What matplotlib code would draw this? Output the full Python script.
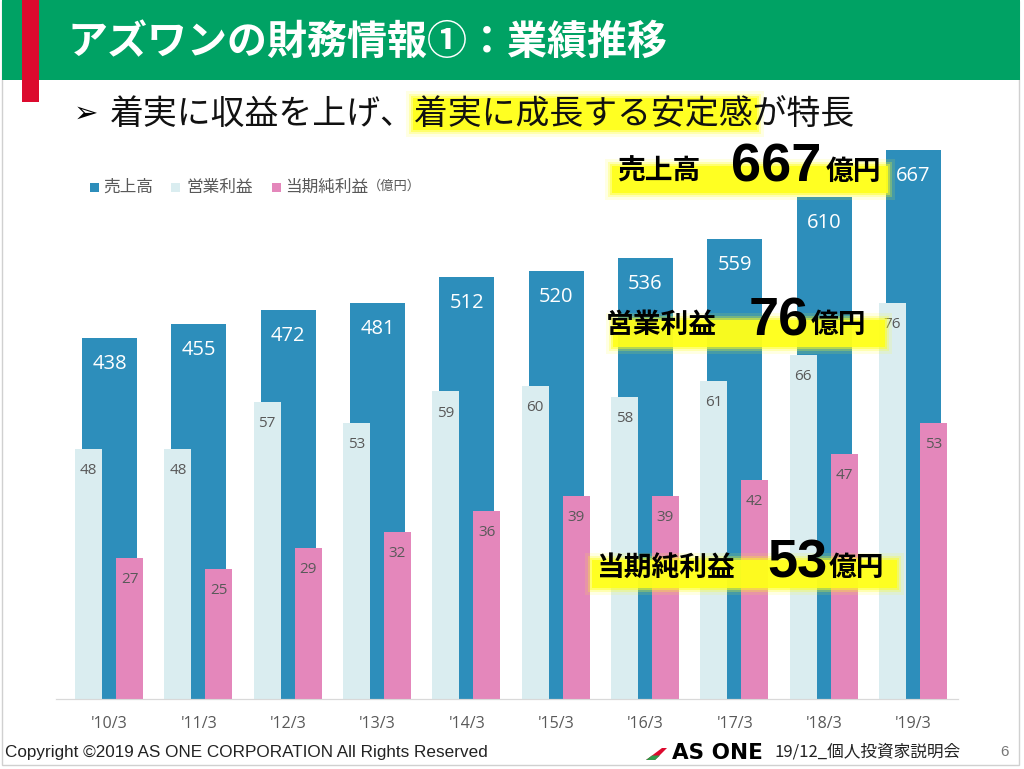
"""
アズワンの財務情報①：業績推移
売上高・営業利益・当期純利益 (億円)
"""

import matplotlib
matplotlib.use("Agg")

import matplotlib.pyplot as plt
from matplotlib.patches import Rectangle, Polygon

plt.rcParams["font.family"] = ["Noto Sans CJK JP", "DejaVu Sans"]

# data
years = ["'10/3", "'11/3", "'12/3", "'13/3", "'14/3",
         "'15/3", "'16/3", "'17/3", "'18/3", "'19/3"]
sales = [438, 455, 472, 481, 512, 520, 536, 559, 610, 667]
op_income = [48, 48, 57, 53, 59, 60, 58, 61, 66, 76]
net_income = [27, 25, 29, 32, 36, 39, 39, 42, 47, 53]

series_names = ["売上高", "営業利益", "当期純利益"]

BLUE = "#2D8EBB"
LIGHT = "#DAEDF0"
PINK = "#E487BB"
GREEN = "#00A264"
RED = "#DC0A2E"
YELLOW = "#FFFF1A"
GRAY = "#595959"

W, H = 1024, 769


def fx(x):
    return x / W


def fy(y):
    return 1 - y / H


def rect(fig, x0, y0, x1, y1, **kw):
    fig.patches.append(Rectangle((fx(x0), fy(y1)), fx(x1 - x0), (y1 - y0) / H,
                                 transform=fig.transFigure, **kw))


def glow(fig, x0, y0, x1, y1):
    for pad, alpha in [(7, 0.12), (4, 0.25), (2, 0.45), (0, 0.9)]:
        rect(fig, x0 - pad, y0 - pad, x1 + pad, y1 + pad,
             facecolor=YELLOW, edgecolor="none", alpha=alpha, zorder=1)


def draw_header(fig):
    rect(fig, 2, 0, W - 4, 80, facecolor=GREEN, edgecolor="none", zorder=1)
    rect(fig, 22, 0, 39, 102, facecolor=RED, edgecolor="none", zorder=2)
    fig.text(fx(67), fy(42), "アズワンの財務情報①：業績推移",
             color="white", fontsize=28.8, fontweight="bold",
             va="center", ha="left", zorder=3)

    glow(fig, 413, 98, 757, 130)
    fig.text(fx(74), fy(114), "➢", fontsize=21, va="center", ha="left",
             family=["DejaVu Sans"], color="black", zorder=3)
    fig.text(fx(110), fy(114), "着実に収益を上げ、着実に成長する安定感が特長",
             fontsize=24.4, va="center", ha="left", color="#111111", zorder=3)


def draw_chart(fig):
    bottom, top, left, right = 699, 140, 56, 958
    ax = fig.add_axes([fx(left), fy(bottom), (right - left) / W, (bottom - top) / H])
    ax2 = ax.twinx()

    x = list(range(len(years)))
    b1 = ax.bar(x, sales, width=0.616, color=BLUE, zorder=2)
    b2 = ax2.bar([i - 0.235 for i in x], op_income, width=0.302, color=LIGHT, zorder=2)
    b3 = ax2.bar([i + 0.224 for i in x], net_income, width=0.302, color=PINK, zorder=2)

    ax.set_xlim(-0.6, 9.5)
    ax.set_ylim(0, 678.8)
    ax2.set_ylim(0, 107.2)

    ax.bar_label(b1, padding=-26, color="white", fontsize=14.5,
                 family=["Open Sans"])
    for bars in (b2, b3):
        ax2.bar_label(bars, padding=-21, color=GRAY, fontsize=11,
                      family=["Open Sans"])

    ax.set_xticks(x)
    ax.set_xticklabels(years, fontsize=11.5, color=GRAY, family=["Open Sans"])
    ax.tick_params(axis="x", length=0, pad=12)
    for a in (ax, ax2):
        a.set_yticks([])
        for side in ("top", "left", "right"):
            a.spines[side].set_visible(False)
        a.spines["bottom"].set_color("#D9D9D9")
        a.patch.set_alpha(0)

    # legend
    colors = [BLUE, LIGHT, PINK]
    squares = [90, 171, 272]
    labels_x = [103, 186, 285]
    for name, col, sx, tx in zip(series_names, colors, squares, labels_x):
        rect(fig, sx, 183, sx + 9, 192, facecolor=col, edgecolor="none", zorder=2)
        fig.text(fx(tx), fy(187.5), name, fontsize=12, color=GRAY,
                 va="center", ha="left", zorder=3)
    fig.text(fx(368), fy(186), "（億円）", fontsize=9.5, color=GRAY,
             va="center", ha="left", zorder=3)


def callout(fig, band, label, label_x, value, value_x, unit_x, baseline):
    glow(fig, *band)
    fig.text(fx(label_x), fy(baseline), label, fontsize=20, fontweight="bold",
             va="baseline", ha="left", color="black", zorder=3)
    fig.text(fx(value_x), fy(baseline + 2), str(value), fontsize=39,
             fontweight="bold", family=["Liberation Sans"],
             va="baseline", ha="left", color="black", zorder=3)
    fig.text(fx(unit_x), fy(baseline), "億円", fontsize=20, fontweight="bold",
             va="baseline", ha="left", color="black", zorder=3)


def draw_callouts(fig):
    callout(fig, (612, 166, 888, 193), series_names[0], 617,
            sales[-1], 731, 826, 180)
    callout(fig, (613, 320, 885, 347), series_names[1], 606,
            op_income[-1], 749, 811, 333)
    callout(fig, (592, 560, 897, 588), series_names[2], 596,
            net_income[-1], 767, 829, 576)


def draw_footer(fig):
    fig.text(fx(5), fy(752), "Copyright ©2019 AS ONE CORPORATION All Rights Reserved",
             fontsize=12.3, family=["Liberation Sans"], color="#222222",
             va="center", ha="left")
    fig.patches.append(Polygon([(fx(646), fy(760)), (fx(662), fy(748)),
                                (fx(667), fy(748)), (fx(655), fy(760))],
                               closed=True, transform=fig.transFigure,
                               facecolor=RED, edgecolor="none"))
    fig.patches.append(Polygon([(fx(646), fy(760)), (fx(652), fy(755.5)),
                                (fx(660), fy(755.5)), (fx(655), fy(760))],
                               closed=True, transform=fig.transFigure,
                               facecolor="#2E9A4A", edgecolor="none"))
    fig.text(fx(672), fy(753), "AS ONE", fontsize=15.5, fontweight="bold",
             family=["DejaVu Sans"], color="black", va="center", ha="left")
    fig.text(fx(774), fy(752), "19/12_個人投資家説明会", fontsize=12,
             color="#222222", va="center", ha="left")
    fig.text(fx(1000), fy(752), "6", fontsize=11, color="#777777",
             family=["Liberation Sans"], va="center", ha="left")
    rect(fig, 2, 1, W - 5, 765, facecolor="none", edgecolor="#D0D0D0",
         linewidth=1, zorder=0)


def main():
    fig = plt.figure(figsize=(W / 100, H / 100), dpi=100)
    fig.patch.set_facecolor("white")

    draw_chart(fig)
    draw_header(fig)
    draw_callouts(fig)
    draw_footer(fig)

    fig.savefig("out.png", dpi=100)
    plt.close(fig)


if __name__ == "__main__":
    main()
